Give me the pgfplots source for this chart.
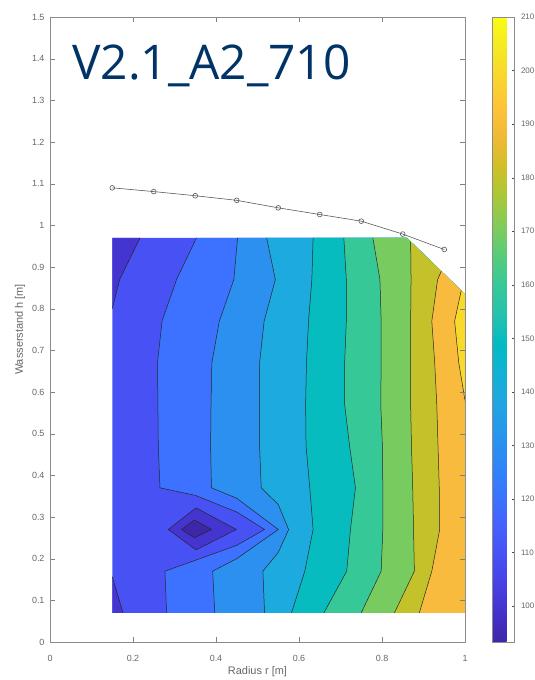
\documentclass[border=0pt]{standalone}
\usepackage{pgfplots}
\pgfplotsset{compat=1.18}
\usepackage{fontspec}
\setmainfont{Liberation Sans}
\newfontfamily\titlefont{Open Sans}

% fill colours of the contour bands (parula, lower level of each band)
\definecolor{c093}{rgb}{0.2422,0.1504,0.6603}
\definecolor{c100}{rgb}{0.2684,0.2083,0.8207}
\definecolor{c110}{rgb}{0.2810,0.3232,0.9582}
\definecolor{c120}{rgb}{0.2344,0.4458,0.9982}
\definecolor{c130}{rgb}{0.1702,0.5664,0.9390}
\definecolor{c140}{rgb}{0.1079,0.6669,0.8728}
\definecolor{c150}{rgb}{0.0290,0.7372,0.7498}
\definecolor{c160}{rgb}{0.2164,0.7844,0.5919}
\definecolor{c170}{rgb}{0.4691,0.8012,0.3737}
\definecolor{c180}{rgb}{0.7639,0.7618,0.1699}
\definecolor{c190}{rgb}{0.9774,0.7325,0.2389}
\definecolor{c200}{rgb}{0.9720,0.8538,0.1692}
\definecolor{titleblue}{RGB}{0,51,102}

\pgfplotsset{
  /pgf/number format/assume math mode=true,
  colormap={parula}{
    rgb=(0.2422,0.1504,0.6603) rgb=(0.2647,0.1978,0.7952) rgb=(0.2783,0.2559,0.8991)
    rgb=(0.2810,0.3228,0.9579) rgb=(0.2699,0.3892,0.9906) rgb=(0.2206,0.4603,0.9973)
    rgb=(0.1786,0.5289,0.9682) rgb=(0.1540,0.5902,0.9218) rgb=(0.1248,0.6459,0.8883)
    rgb=(0.0689,0.6948,0.8394) rgb=(0.0067,0.7312,0.7660) rgb=(0.1408,0.7584,0.6842)
    rgb=(0.2161,0.7843,0.5923) rgb=(0.3406,0.8008,0.4789) rgb=(0.5044,0.7993,0.3480)
    rgb=(0.6720,0.7793,0.2227) rgb=(0.8203,0.7498,0.1535) rgb=(0.9393,0.7288,0.2100)
    rgb=(0.9970,0.7659,0.2199) rgb=(0.9786,0.8386,0.1766) rgb=(0.9597,0.9135,0.1423)
    rgb=(0.9769,0.9839,0.0805)
  },
  cline/.style={black!85, line width=0.5bp, mark=none, forget plot},
  band/.style={fill=#1, draw=none, mark=none, forget plot},
}

\begin{document}
\begin{tikzpicture}
\path[use as bounding box] (0,0) rectangle (535bp,680bp);
\begin{axis}[
  at={(50bp,38bp)}, anchor=south west,
  scale only axis, width=415bp, height=625bp,
  xmin=0, xmax=1, ymin=0, ymax=1.5,
  xtick={0,0.2,0.4,0.6,0.8,1},
  ytick={0,0.1,0.2,0.3,0.4,0.5,0.6,0.7,0.8,0.9,1,1.1,1.2,1.3,1.4,1.5},
  tick align=inside, major tick length=5bp,
  axis line style={black!45}, tick style={black!50},
  tick label style={font=\fontsize{9}{10}\selectfont, text=black!60},
  xticklabel style={yshift=-10bp},
  yticklabel style={xshift=-2bp},
  xlabel={Radius r [m]}, ylabel={Wasserstand h [m]},
  label style={font=\fontsize{11}{12}\selectfont, text=black!60},
  xlabel style={at={(axis description cs:0.5,-0.047)}, anchor=center},
  ylabel style={at={(axis description cs:-0.072,0.5)}, anchor=center},
  axis on top,
  colormap name=parula,
  point meta min=93.3, point meta max=210,
  colorbar,
  colorbar style={
    at={(parent axis.north east)}, anchor=north west, xshift=19bp,
    scale only axis, width=22bp, height=625bp,
    ytick={100,110,120,130,140,150,160,170,180,190,200,210},
    ytick pos=right,
    tick align=inside, major tick length=3bp,
    axis line style={black!45}, tick style={black!70},
    /pgf/number format/assume math mode=true,
    yticklabel style={font=\fontsize{8}{9}\selectfont, text=black!60, xshift=3bp},
  },
]
% measuring domain, lowest band
\addplot[band=c110] coordinates {(0.15,0.07) (1.0,0.07) (1.0,0.835) (0.86,0.97) (0.15,0.97)};
% regions below 110
\addplot[band=c100] coordinates {(0.15,0.97) (0.217,0.97) (0.168,0.87) (0.15,0.80)};
\addplot[band=c100] coordinates {(0.15,0.157) (0.176,0.07) (0.15,0.07)};
\addplot[band=c100] coordinates {(0.285,0.27) (0.352,0.322) (0.449,0.27) (0.352,0.221)};
\addplot[band=c093] coordinates {(0.317,0.27) (0.348,0.293) (0.389,0.27) (0.348,0.25)};
% bands above each level
\addplot[band=c120] coordinates {(0.353,0.97) (0.305,0.87) (0.270,0.77) (0.259,0.67) (0.260,0.57) (0.261,0.47) (0.265,0.37) (0.35,0.352) (0.45,0.312) (0.517,0.27) (0.45,0.232) (0.35,0.196) (0.277,0.17) (0.281,0.07) (1.0,0.07) (1.0,0.835) (0.86,0.97)};
\addplot[band=c130] coordinates {(0.452,0.97) (0.443,0.87) (0.408,0.77) (0.390,0.67) (0.388,0.57) (0.387,0.47) (0.389,0.37) (0.45,0.345) (0.55,0.27) (0.45,0.20) (0.392,0.17) (0.397,0.07) (1.0,0.07) (1.0,0.835) (0.86,0.97)};
\addplot[band=c140] coordinates {(0.522,0.97) (0.543,0.87) (0.516,0.77) (0.505,0.67) (0.505,0.57) (0.505,0.47) (0.509,0.37) (0.55,0.33) (0.575,0.27) (0.55,0.215) (0.513,0.17) (0.517,0.07) (1.0,0.07) (1.0,0.835) (0.86,0.97)};
\addplot[band=c150] coordinates {(0.634,0.97) (0.631,0.87) (0.623,0.77) (0.618,0.67) (0.616,0.57) (0.617,0.47) (0.626,0.37) (0.634,0.27) (0.614,0.17) (0.582,0.07) (1.0,0.07) (1.0,0.835) (0.86,0.97)};
\addplot[band=c160] coordinates {(0.708,0.97) (0.714,0.87) (0.714,0.77) (0.710,0.67) (0.710,0.57) (0.722,0.47) (0.736,0.37) (0.724,0.27) (0.715,0.17) (0.660,0.07) (1.0,0.07) (1.0,0.835) (0.86,0.97)};
\addplot[band=c170] coordinates {(0.778,0.97) (0.795,0.87) (0.798,0.77) (0.798,0.67) (0.797,0.57) (0.801,0.47) (0.802,0.37) (0.802,0.27) (0.798,0.17) (0.750,0.07) (1.0,0.07) (1.0,0.835) (0.86,0.97)};
\addplot[band=c180] coordinates {(0.869,0.961) (0.870,0.87) (0.869,0.77) (0.869,0.67) (0.869,0.57) (0.871,0.47) (0.874,0.37) (0.876,0.27) (0.878,0.17) (0.830,0.07) (1.0,0.07) (1.0,0.835)};
\addplot[band=c190] coordinates {(0.943,0.89) (0.934,0.87) (0.920,0.77) (0.927,0.67) (0.932,0.57) (0.935,0.47) (0.938,0.37) (0.939,0.27) (0.920,0.17) (0.890,0.07) (1.0,0.07) (1.0,0.835)};
\addplot[band=c200] coordinates {(0.991,0.844) (0.975,0.77) (0.985,0.67) (1.0,0.58) (1.0,0.835)};
% contour lines
\addplot[cline] coordinates {(0.217,0.97) (0.168,0.87) (0.15,0.80)};
\addplot[cline] coordinates {(0.15,0.157) (0.176,0.07)};
\addplot[cline] coordinates {(0.285,0.27) (0.352,0.322) (0.449,0.27) (0.352,0.221) (0.285,0.27)};
\addplot[cline] coordinates {(0.317,0.27) (0.348,0.293) (0.389,0.27) (0.348,0.25) (0.317,0.27)};
\addplot[cline] coordinates {(0.353,0.97) (0.305,0.87) (0.270,0.77) (0.259,0.67) (0.260,0.57) (0.261,0.47) (0.265,0.37) (0.35,0.352) (0.45,0.312) (0.517,0.27) (0.45,0.232) (0.35,0.196) (0.277,0.17) (0.281,0.07)};
\addplot[cline] coordinates {(0.452,0.97) (0.443,0.87) (0.408,0.77) (0.390,0.67) (0.388,0.57) (0.387,0.47) (0.389,0.37) (0.45,0.345) (0.55,0.27) (0.45,0.20) (0.392,0.17) (0.397,0.07)};
\addplot[cline] coordinates {(0.522,0.97) (0.543,0.87) (0.516,0.77) (0.505,0.67) (0.505,0.57) (0.505,0.47) (0.509,0.37) (0.55,0.33) (0.575,0.27) (0.55,0.215) (0.513,0.17) (0.517,0.07)};
\addplot[cline] coordinates {(0.634,0.97) (0.631,0.87) (0.623,0.77) (0.618,0.67) (0.616,0.57) (0.617,0.47) (0.626,0.37) (0.634,0.27) (0.614,0.17) (0.582,0.07)};
\addplot[cline] coordinates {(0.708,0.97) (0.714,0.87) (0.714,0.77) (0.710,0.67) (0.710,0.57) (0.722,0.47) (0.736,0.37) (0.724,0.27) (0.715,0.17) (0.660,0.07)};
\addplot[cline] coordinates {(0.778,0.97) (0.795,0.87) (0.798,0.77) (0.798,0.67) (0.797,0.57) (0.801,0.47) (0.802,0.37) (0.802,0.27) (0.798,0.17) (0.750,0.07)};
\addplot[cline] coordinates {(0.869,0.961) (0.870,0.87) (0.869,0.77) (0.869,0.67) (0.869,0.57) (0.871,0.47) (0.874,0.37) (0.876,0.27) (0.878,0.17) (0.830,0.07)};
\addplot[cline] coordinates {(0.943,0.89) (0.934,0.87) (0.920,0.77) (0.927,0.67) (0.932,0.57) (0.935,0.47) (0.938,0.37) (0.939,0.27) (0.920,0.17) (0.890,0.07)};
\addplot[cline] coordinates {(0.991,0.844) (0.975,0.77) (0.985,0.67) (1.0,0.58)};
% water level
\addplot[black!65, line width=0.6bp, mark=o, mark size=2.4bp, mark options={solid, black!65}]
  coordinates {(0.15,1.090) (0.25,1.081) (0.35,1.071) (0.45,1.060) (0.55,1.042) (0.65,1.026) (0.75,1.010) (0.85,0.979) (0.95,0.942)};
\node[anchor=base west, inner sep=0pt, text=titleblue, font=\titlefont\fontsize{48}{50}\selectfont] at (axis cs:0.053,1.351) {V2.1\_A2\_710};
\end{axis}
\end{tikzpicture}
\end{document}
